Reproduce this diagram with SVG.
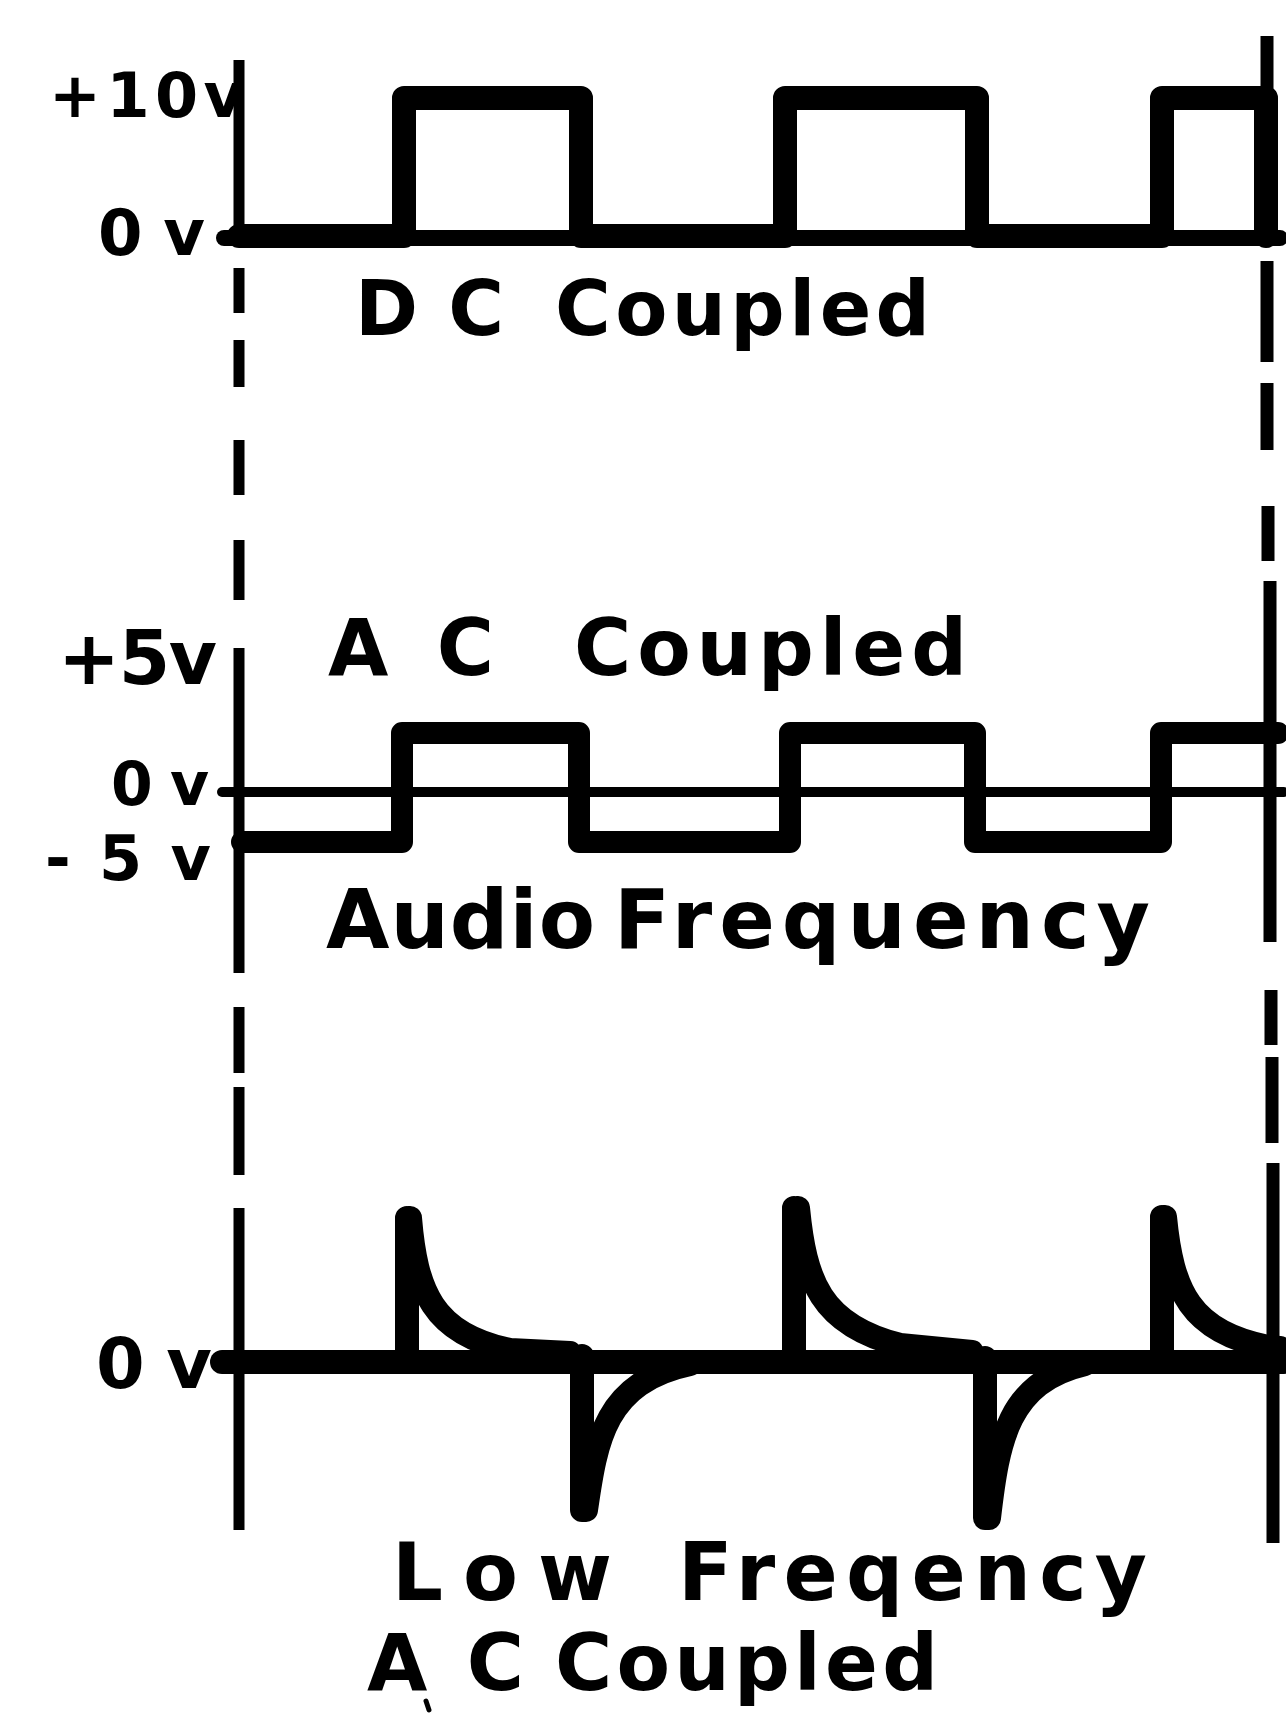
<svg xmlns="http://www.w3.org/2000/svg" width="1286" height="1713" viewBox="0 0 1286 1713">
<style>
.t{font-family:"DejaVu Sans","Liberation Sans",sans-serif;font-weight:bold;fill:#000}
.w{fill:none;stroke:#000;stroke-linejoin:round;stroke-linecap:round}
.ax{fill:none;stroke:#000;stroke-linecap:butt}
</style>
<rect width="1286" height="1713" fill="#fff"/>
<g id="axes">
<path class="ax" stroke-width="11" d="M239 60V236M239 268V313M239 340V387M239 440V495M239 540V600M239 648V973M239 1007V1073M239 1087V1175M239 1208V1530"/>
<path class="ax" stroke-width="13" d="M1267 36V245M1267 261V362M1267 383V450M1268 506V561M1270 581V942M1271 990V1045M1272 1057V1143M1273 1163V1543"/>
</g>
<g id="dc-coupled">
<path class="w" stroke-width="16" d="M224 238H1280"/>
<path class="w" stroke-width="24" d="M239 236H404V98H581V236H785V98H977V236H1162V98H1266V236"/>
<text class="t" font-size="62" x="49" y="117" textLength="195" lengthAdjust="spacing">+10v</text>
<text class="t" font-size="64" x="98" y="255" textLength="107" lengthAdjust="spacing">0v</text>
<text class="t" font-size="76" y="335"><tspan x="355" textLength="149" lengthAdjust="spacing">DC</tspan> <tspan x="555" textLength="375" lengthAdjust="spacing">Coupled</tspan></text>
</g>
<g id="ac-coupled">
<path class="w" stroke-width="10" d="M222 792H1284"/>
<path class="w" stroke-width="22" d="M242 842H402V733H579V842H790V733H975V842H1161V733H1278"/>
<text class="t" font-size="74" x="58" y="684" textLength="159" lengthAdjust="spacing">+5v</text>
<text class="t" font-size="78" y="675"><tspan x="328" textLength="166" lengthAdjust="spacing">AC</tspan> <tspan x="574" textLength="393" lengthAdjust="spacing">Coupled</tspan></text>
<text class="t" font-size="60" x="111" y="805" textLength="98" lengthAdjust="spacing">0v</text>
<text class="t" font-size="62" x="45" y="880" textLength="166" lengthAdjust="spacing">-5v</text>
<text class="t" font-size="82" y="948"><tspan x="326" textLength="269" lengthAdjust="spacing">Audio</tspan> <tspan x="614" textLength="536" lengthAdjust="spacing">Frequency</tspan></text>
</g>
<g id="low-frequency">
<path class="w" stroke-width="24" d="M222 1362H1284"/>
<path class="w" stroke-width="24" d="M407 1362V1218M410 1218C416 1290 432 1334 510 1350L570 1353M582 1356V1510M586 1510C596 1440 605 1382 690 1364M794 1362V1208M798 1208C805 1280 820 1325 900 1345L972 1352M985 1358V1518M989 1518C998 1440 1008 1382 1085 1364M1162 1362V1217M1165 1217C1172 1290 1190 1332 1268 1347L1280 1348"/>
<text class="t" font-size="70" x="96" y="1388" textLength="116" lengthAdjust="spacing">0v</text>
<text class="t" font-size="80" y="1600"><tspan x="392" textLength="220" lengthAdjust="spacing">Low</tspan> <tspan x="678" textLength="469" lengthAdjust="spacing">Freqency</tspan></text>
<text class="t" font-size="78" y="1690"><tspan x="367" textLength="157" lengthAdjust="spacing">AC</tspan> <tspan x="555" textLength="383" lengthAdjust="spacing">Coupled</tspan></text>
<path class="w" stroke-width="5" d="M426 1701L429 1710"/>
</g>
</svg>
